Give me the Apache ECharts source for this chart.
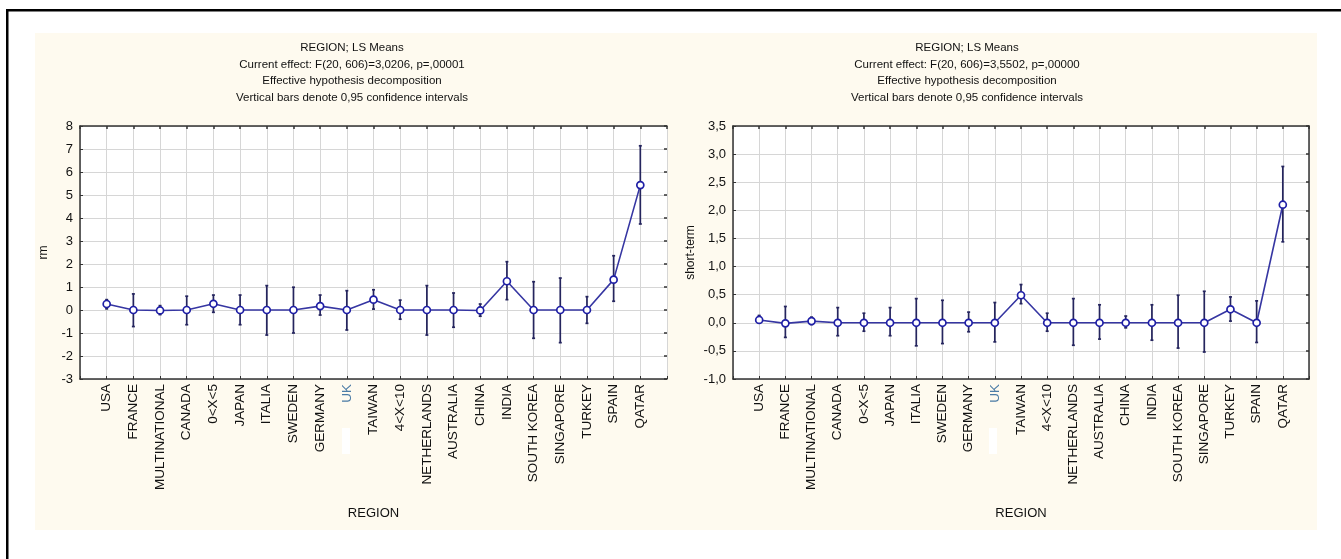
<!DOCTYPE html>
<html><head><meta charset="utf-8">
<script src="https://cdn.jsdelivr.net/npm/echarts@6/dist/echarts.min.js"></script>
<style>html,body{margin:0;padding:0;background:#fff}#c{width:1341px;height:559px}</style>
</head><body><div id="c"></div>
<script>
const regions = ['USA','FRANCE','MULTINATIONAL','CANADA','0<X<5','JAPAN','ITALIA','SWEDEN','GERMANY','UK','TAIWAN','4<X<10','NETHERLANDS','AUSTRALIA','CHINA','INDIA','SOUTH KOREA','SINGAPORE','TURKEY','SPAIN','QATAR'];
const rmMean = [0.26,0,-0.02,0,0.27,0,0,0,0.17,0,0.45,0,0,0,-0.02,1.25,0,0,0,1.32,5.43];
const rmLow  = [0.05,-0.72,-0.2,-0.64,-0.1,-0.64,-1.09,-1.0,-0.22,-0.87,0.04,-0.4,-1.09,-0.75,-0.27,0.45,-1.23,-1.42,-0.58,0.38,3.74];
const rmHigh = [0.45,0.7,0.19,0.6,0.65,0.65,1.06,0.99,0.65,0.84,0.88,0.43,1.06,0.74,0.26,2.1,1.23,1.39,0.58,2.36,7.14];
const stMean = [0.05,-0.01,0.03,0,0,0,0,0,0,0,0.49,0,0,0,0,0,0,0,0.24,0,2.1];
const stLow  = [0.01,-0.26,-0.03,-0.23,-0.15,-0.23,-0.41,-0.37,-0.16,-0.34,0.34,-0.15,-0.4,-0.29,-0.09,-0.31,-0.45,-0.52,0.03,-0.35,1.44];
const stHigh = [0.13,0.29,0.1,0.27,0.17,0.27,0.43,0.4,0.19,0.36,0.68,0.17,0.43,0.32,0.12,0.32,0.49,0.56,0.46,0.39,2.78];
const titleLeft = 'REGION; LS Means\nCurrent effect: F(20, 606)=3,0206, p=,00001\nEffective hypothesis decomposition\nVertical bars denote 0,95 confidence intervals';
const titleRight = 'REGION; LS Means\nCurrent effect: F(20, 606)=3,5502, p=,00000\nEffective hypothesis decomposition\nVertical bars denote 0,95 confidence intervals';
const xName = 'REGION';
const yNameLeft = 'rm';
const yNameRight = 'short-term';

const FONT = '"Liberation Sans", Arial, sans-serif';
const TXT = '#111111';
const chart = echarts.init(document.getElementById('c'));

function xBottom(gi) {
  return {
    gridIndex: gi, type: 'value', min: 0, max: 22, interval: 1, position: 'bottom',
    axisLine: {show: true, onZero: false, lineStyle: {color: '#333', width: 1.5}},
    axisTick: {show: true, inside: true, length: 3, lineStyle: {color: '#333'}},
    splitLine: {show: true, lineStyle: {color: '#d6d6d6', width: 1}},
    axisLabel: {
      rotate: 90, fontSize: 13.5, fontFamily: FONT, color: TXT, margin: 5,
      formatter: v => { const r = regions[v - 1] || ''; return r === 'UK' ? '{uk|UK}' : r; },
      rich: {uk: {color: '#4c7ca6', fontSize: 13.5, fontFamily: FONT}}
    },
    name: xName, nameLocation: 'middle', nameGap: 128,
    nameTextStyle: {fontSize: 13, fontFamily: FONT, color: TXT}
  };
}
function xTop(gi) {
  return {
    gridIndex: gi, type: 'value', min: 0, max: 22, interval: 1, position: 'top',
    axisLine: {show: true, onZero: false, lineStyle: {color: '#333', width: 1.5}},
    axisTick: {show: true, inside: true, length: 3, lineStyle: {color: '#333', width: 1.5}},
    splitLine: {show: false}, axisLabel: {show: false}
  };
}
function yLeft(gi, min, max, interval, fmt, name, gap) {
  return {
    gridIndex: gi, type: 'value', min, max, interval, position: 'left',
    axisLine: {show: true, onZero: false, lineStyle: {color: '#333', width: 1.5}},
    axisTick: {show: true, inside: true, length: 3, lineStyle: {color: '#333'}},
    splitLine: {show: true, lineStyle: {color: '#d6d6d6', width: 1}},
    axisLabel: {fontSize: 13, fontFamily: FONT, color: TXT, margin: 7, formatter: fmt},
    name, nameLocation: 'middle', nameGap: gap,
    nameTextStyle: {fontSize: 12, fontFamily: FONT, color: TXT}
  };
}
function yRight(gi, min, max, interval, line) {
  return {
    gridIndex: gi, type: 'value', min, max, interval, position: 'right',
    axisLine: {show: line, onZero: false, lineStyle: {color: '#333', width: 1.5}},
    axisTick: {show: true, inside: true, length: 3, lineStyle: {color: '#333', width: 1.5}},
    splitLine: {show: false}, axisLabel: {show: false}
  };
}
function errSeries(xi, yi, lo, hi) {
  return {
    type: 'custom', xAxisIndex: xi, yAxisIndex: yi, z: 3,
    data: regions.map((r, i) => [i + 1, lo[i], hi[i]]),
    encode: {x: 0, y: [1, 2]},
    renderItem: (params, api) => {
      const x = api.value(0);
      const a = api.coord([x, api.value(1)]);
      const b = api.coord([x, api.value(2)]);
      const c = 1.5;
      const st = {stroke: '#25255e', lineWidth: 1.7};
      return {type: 'group', children: [
        {type: 'line', shape: {x1: a[0], y1: a[1], x2: b[0], y2: b[1]}, style: st},
        {type: 'line', shape: {x1: a[0] - c, y1: a[1], x2: a[0] + c, y2: a[1]}, style: st},
        {type: 'line', shape: {x1: b[0] - c, y1: b[1], x2: b[0] + c, y2: b[1]}, style: st}
      ]};
    }
  };
}
function meanSeries(xi, yi, vals) {
  return {
    type: 'line', xAxisIndex: xi, yAxisIndex: yi, z: 5,
    data: regions.map((r, i) => [i + 1, vals[i]]),
    symbol: 'circle', symbolSize: 7, showSymbol: true,
    lineStyle: {color: '#3636a2', width: 1.6},
    itemStyle: {color: '#ffffff', borderColor: '#1f1fa6', borderWidth: 1.7}
  };
}
const commaFmt = v => v.toFixed(1).replace('.', ',');

chart.setOption({
  animation: false,
  backgroundColor: '#ffffff',
  graphic: [
    {type: 'rect', shape: {x: 35, y: 33, width: 1282, height: 497}, style: {fill: '#fefaef'}, z: -10},
    {type: 'rect', shape: {x: 6, y: 9, width: 2.5, height: 550}, style: {fill: '#000'}, z: -5},
    {type: 'rect', shape: {x: 6, y: 9, width: 1335, height: 2.5}, style: {fill: '#000'}, z: -5},
    {type: 'rect', shape: {x: 342, y: 428, width: 8, height: 26}, style: {fill: '#ffffff'}, z: 10},
    {type: 'rect', shape: {x: 989, y: 428, width: 8, height: 26}, style: {fill: '#ffffff'}, z: 10}
  ],
  title: [
    {text: titleLeft, left: 352, top: 40, textAlign: 'center', padding: 0,
     textStyle: {fontSize: 11.5, fontWeight: 'normal', fontFamily: FONT, color: TXT, lineHeight: 16.4}},
    {text: titleRight, left: 967, top: 40, textAlign: 'center', padding: 0,
     textStyle: {fontSize: 11.5, fontWeight: 'normal', fontFamily: FONT, color: TXT, lineHeight: 16.4}}
  ],
  grid: [
    {left: 80, top: 126, width: 587, height: 253, show: true, backgroundColor: '#ffffff', borderWidth: 0},
    {left: 733, top: 126, width: 576, height: 253, show: true, backgroundColor: '#ffffff', borderWidth: 0}
  ],
  xAxis: [xBottom(0), xTop(0), xBottom(1), xTop(1)],
  yAxis: [
    yLeft(0, -3, 8, 1, v => String(v), yNameLeft, 30),
    yRight(0, -3, 8, 1, false),
    yLeft(1, -1, 3.5, 0.5, commaFmt, yNameRight, 36),
    yRight(1, -1, 3.5, 0.5, true)
  ],
  series: [
    errSeries(0, 0, rmLow, rmHigh),
    meanSeries(0, 0, rmMean),
    errSeries(2, 2, stLow, stHigh),
    meanSeries(2, 2, stMean)
  ]
});
</script></body></html>
